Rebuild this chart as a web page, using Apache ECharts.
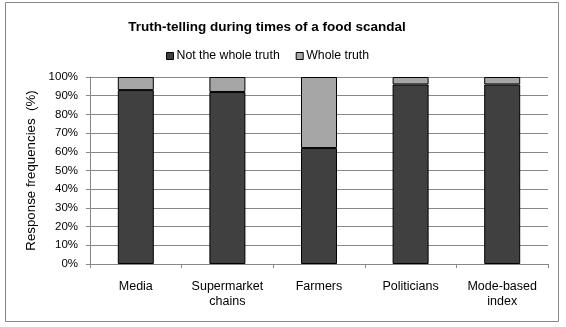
<!DOCTYPE html>
<html><head><meta charset="utf-8">
<script src="https://cdn.jsdelivr.net/npm/echarts@6/dist/echarts.min.js"></script>
<style>html,body{margin:0;padding:0;background:#fff}#c{width:566px;height:327px}</style>
</head><body><div id="c"></div>
<script>
const categories = ['Media', 'Supermarket\nchains', 'Farmers', 'Politicians', 'Mode-based\nindex'];
const notWhole = [93, 92, 62, 96, 96];
const whole = [7, 8, 38, 4, 4];
const seriesNames = ['Not the whole truth', 'Whole truth'];
const titleText = 'Truth-telling during times of a food scandal';
const yAxisName = 'Response frequencies  (%)';

const chart = echarts.init(document.getElementById('c'), null, {renderer: 'canvas'});
const font = 'Liberation Sans, Arial, sans-serif';
chart.setOption({
  animation: false,
  backgroundColor: '#fff',
  graphic: [{type: 'rect', shape: {x: 5.5, y: 2.5, width: 553, height: 319}, style: {fill: 'none', stroke: '#888', lineWidth: 1}, silent: true}],
  title: {text: titleText, left: 262, top: 15, textAlign: 'center',
    textStyle: {fontFamily: font, fontSize: 13.5, fontWeight: 'bold', color: '#000'}},
  legend: {data: seriesNames, top: 45, left: 161, itemWidth: 7, itemHeight: 7, itemGap: 16,
    icon: 'rect', textStyle: {fontFamily: font, fontSize: 12.3, color: '#000', padding: [0, 0, 0, -2]},
    itemStyle: {borderColor: '#000', borderWidth: 1}},
  grid: {left: 90, right: 18, top: 77, bottom: 63},
  xAxis: {type: 'category', data: categories,
    axisLine: {lineStyle: {color: '#888'}},
    axisTick: {show: true, length: 4, lineStyle: {color: '#888'}},
    axisLabel: {interval: 0, fontFamily: font, fontSize: 12.5, color: '#000', margin: 15, lineHeight: 15}},
  yAxis: {type: 'value', min: 0, max: 100, interval: 10,
    name: yAxisName, nameLocation: 'middle', nameGap: 51,
    nameTextStyle: {fontFamily: font, fontSize: 13.3, color: '#000'},
    axisLine: {show: true, lineStyle: {color: '#888'}},
    axisTick: {show: true, length: 4, lineStyle: {color: '#888'}},
    axisLabel: {formatter: '{value}%', fontFamily: font, fontSize: 11.5, color: '#000', margin: 12},
    splitLine: {lineStyle: {color: '#888'}}},
  series: [
    {name: seriesNames[0], type: 'bar', stack: 's', data: notWhole, barWidth: 36,
      itemStyle: {color: '#404040', borderColor: '#000', borderWidth: 1}},
    {name: seriesNames[1], type: 'bar', stack: 's', data: whole, barWidth: 36,
      itemStyle: {color: '#a6a6a6', borderColor: '#000', borderWidth: 1}}
  ]
});
</script></body></html>
